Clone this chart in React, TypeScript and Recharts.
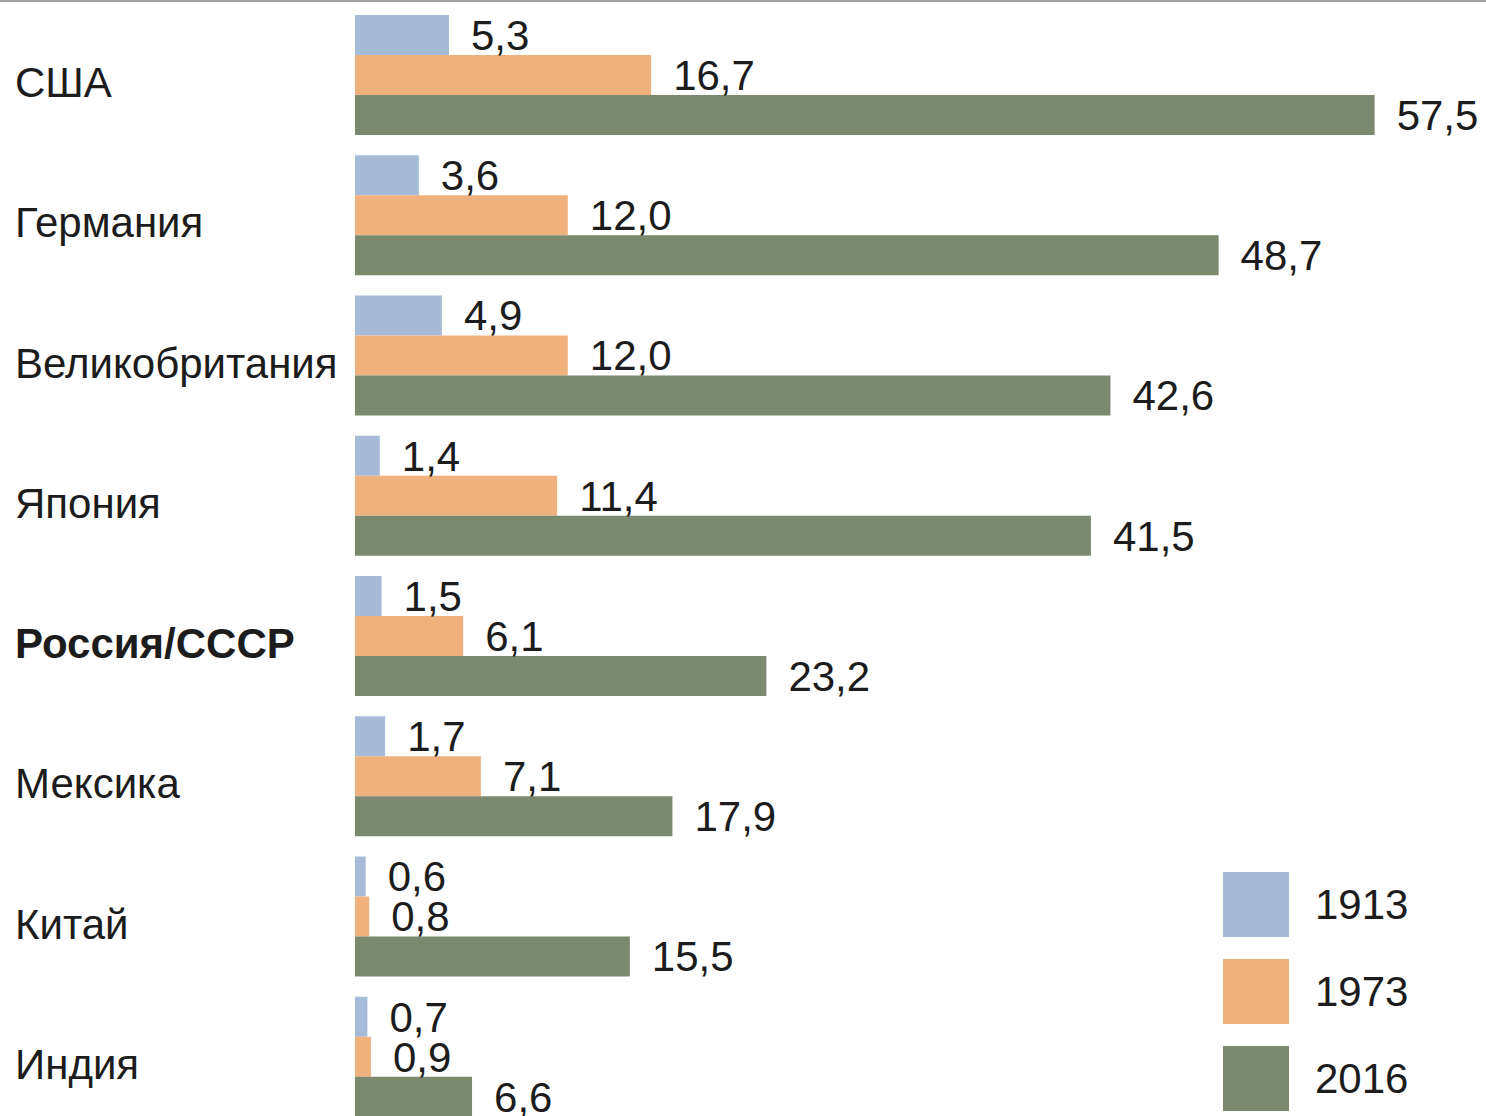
import { BarChart, Bar, XAxis, YAxis, LabelList } from 'recharts'

const categories = ['США', 'Германия', 'Великобритания', 'Япония', 'Россия/СССР', 'Мексика', 'Китай', 'Индия']
const v1913 = [5.3, 3.6, 4.9, 1.4, 1.5, 1.7, 0.6, 0.7]
const v1973 = [16.7, 12.0, 12.0, 11.4, 6.1, 7.1, 0.8, 0.9]
const v2016 = [57.5, 48.7, 42.6, 41.5, 23.2, 17.9, 15.5, 6.6]
const boldCategory = 'Россия/СССР'

const SERIES = [
  { key: 'y1913', name: '1913', color: '#a5bbd8' },
  { key: 'y1973', name: '1973', color: '#efb17e' },
  { key: 'y2016', name: '2016', color: '#7b8a6f' },
]

const FONT = '"Liberation Sans", Arial, sans-serif'
const INK = '#1c1c1c'

const data = categories.map((c, i) => ({
  name: c,
  y1913: v1913[i],
  y1973: v1973[i],
  y2016: v2016[i],
}))

function fmt(v: number) {
  return Number(v).toFixed(1).replace('.', ',')
}

function CountryTick(props: any) {
  const { y, payload } = props
  const bold = payload.value === boldCategory
  return (
    <text
      x={15}
      y={y}
      dy={22}
      textAnchor="start"
      fontFamily={FONT}
      fontSize={42}
      fontWeight={bold ? 700 : 400}
      fill={INK}
    >
      {payload.value}
    </text>
  )
}

// legend drawn beside the chart so it doesn't eat plot height
function YearLegend() {
  return (
    <div style={{ position: 'absolute', left: 1223, top: 870, fontFamily: FONT }}>
      {SERIES.map((s) => (
        <div key={s.key} style={{ display: 'flex', alignItems: 'center', height: 65, marginBottom: 22 }}>
          <div style={{ width: 66, height: 65, background: s.color }} />
          <span style={{ marginLeft: 26, fontSize: 42, color: INK }}>{s.name}</span>
        </div>
      ))}
    </div>
  )
}

export default function App() {
  return (
    <div
      style={{
        position: 'absolute', top: 0, left: 0, width: 1486, height: 1116,
        overflow: 'hidden', background: '#fff', borderTop: '2px solid #a0a0a0',
        boxSizing: 'border-box',
      }}
    >
      <BarChart
        width={1486}
        height={1125}
        data={data}
        layout="vertical"
        barSize={40}
        barGap={0}
        margin={{ top: 3, right: 67, left: 0, bottom: 0 }}
      >
        <XAxis type="number" domain={[0, 60]} hide />
        <YAxis
          type="category"
          dataKey="name"
          width={355}
          axisLine={false}
          tickLine={false}
          tick={<CountryTick />}
          interval={0}
        />
        {SERIES.map((s) => (
          <Bar key={s.key} dataKey={s.key} name={s.name} fill={s.color} isAnimationActive={false}>
            <LabelList
              dataKey={s.key}
              position="right"
              offset={22}
              formatter={fmt}
              fontSize={42}
              fontFamily={FONT}
              fill={INK}
            />
          </Bar>
        ))}
      </BarChart>
      <YearLegend />
    </div>
  )
}
